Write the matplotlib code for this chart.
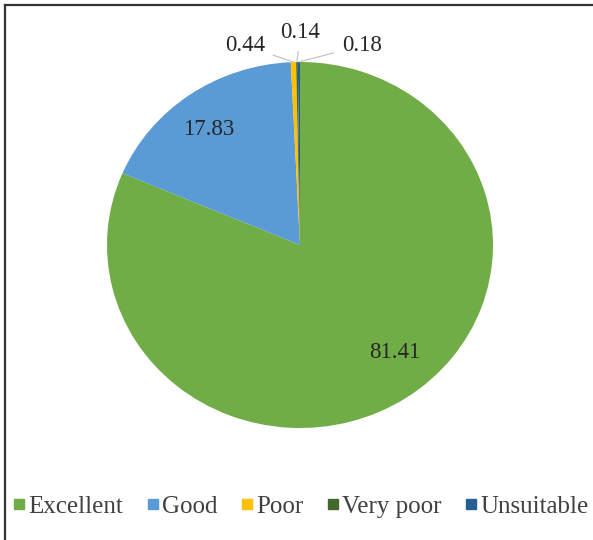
import numpy as np
import matplotlib
matplotlib.use("Agg")
import matplotlib.pyplot as plt
from matplotlib.lines import Line2D

categories = ["Excellent", "Good", "Poor", "Very poor", "Unsuitable"]
values = [81.41, 17.83, 0.44, 0.14, 0.18]
colors = ["#70AD47", "#5B9BD5", "#FFC000", "#43682B", "#255E91"]

# where each value label sits (pie axes coords, radius = 1)
label_pos = [(0.49, -0.585), (-0.475, 0.63), (-0.285, 1.09), (0.0, 1.16), (0.32, 1.09)]
has_leader = [False, False, True, True, True]

plt.rcParams["font.family"] = ["Liberation Serif", "DejaVu Serif"]
text_color = "#262626"

fig = plt.figure(figsize=(5.93, 5.40), dpi=100)
ax = fig.add_axes([107 / 593, 112 / 540, 386 / 593, 366 / 540])

wedges, _ = ax.pie(values, colors=colors, startangle=90, counterclock=False,
                   radius=1, wedgeprops=dict(linewidth=0))
ax.set_aspect("auto")
ax.set_xlim(-1, 1)
ax.set_ylim(-1, 1)

for w, val, (tx, ty), lead in zip(wedges, values, label_pos, has_leader):
    if lead:
        mid = np.deg2rad((w.theta1 + w.theta2) / 2)
        px, py = np.cos(mid), np.sin(mid)
        ax.annotate(f"{val:.2f}", xy=(px, py), xytext=(tx, ty),
                    ha="center", va="center", fontsize=16.5, color=text_color,
                    annotation_clip=False,
                    arrowprops=dict(arrowstyle="-", color="#BFBFBF", lw=0.8,
                                    shrinkA=4, shrinkB=0))
    else:
        ax.text(tx, ty, f"{val:.2f}", ha="center", va="center",
                fontsize=16.5, color=text_color)

handles = [Line2D([], [], marker="s", linestyle="none", markersize=7.5,
                  markerfacecolor=c, markeredgecolor=c) for c in colors]
fig.legend(handles, categories, loc="center", bbox_to_anchor=(0.508, 0.062),
           ncol=5, frameon=False, fontsize=18, handlelength=0.45,
           handletextpad=0.15, columnspacing=0.95, labelcolor="#404040")

# chart frame: only the left and top edges fall inside the image
fig.add_artist(Line2D([5 / 593, 5 / 593], [0, 1 - 5 / 540], color="#333333", lw=1.6))
fig.add_artist(Line2D([5 / 593, 1], [1 - 5 / 540, 1 - 5 / 540], color="#333333", lw=1.6))

fig.savefig("out.png", dpi=100, facecolor="white")
